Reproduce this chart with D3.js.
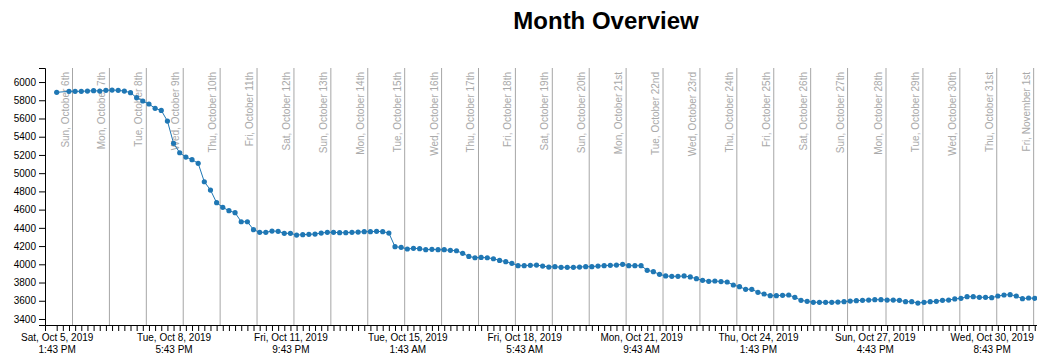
<!DOCTYPE html>
<html>
<head>
<meta charset="utf-8">
<script src="https://cdn.jsdelivr.net/npm/d3@7"></script>
<style>
  html, body { margin: 0; padding: 0; background: #fff; overflow: hidden; }
  svg { display: block; font-family: "Liberation Sans", Arial, Helvetica, sans-serif; }
</style>
</head>
<body>
<svg id="chart" width="1037" height="359"></svg>
<script>
// ---- Data (one reading every 4 hours from the start time; null = missing reading) ----
const startTime = "2019-10-05T13:43:00+02:00";
const stepHours = 4;
const values = [
  5887, null, 5898, 5898, 5898, 5901, 5905, 5901, 5909, 5912,
  5909, 5901, 5883, 5828, 5792, 5759, 5711, 5689, 5572, 5328,
  5224, 5177, 5148, 5108, 4906, 4815, 4676, 4625, 4588, 4566,
  4467, 4467, 4380, 4351, 4351, 4365, 4362, 4340, 4340, 4321,
  4325, 4329, 4332, 4343, 4351, 4351, 4347, 4347, 4351, 4354,
  4358, 4358, 4362, 4358, 4343, 4193, 4186, 4168, 4175, 4172,
  4160, 4164, 4160, 4160, 4153, 4149, 4120, 4087, 4072, 4076,
  4072, 4061, 4043, 4029, 4011, 3985, 3985, 3989, 3992, 3981,
  3970, 3974, 3967, 3967, 3967, 3970, 3974, 3974, 3981, 3985,
  3989, 3992, 4000, 3985, 3985, 3985, 3934, 3919, 3890, 3872,
  3868, 3868, 3872, 3861, 3842, 3824, 3813, 3817, 3810, 3806,
  3773, 3754, 3726, 3726, 3693, 3674, 3656, 3656, 3660, 3663,
  3638, 3605, 3594, 3583, 3583, 3583, 3583, 3586, 3590, 3597,
  3601, 3605, 3608, 3612, 3612, 3608, 3608, 3605, 3590, 3590,
  3575, 3583, 3590, 3594, 3605, 3608, 3620, 3627, 3645, 3645,
  3638, 3638, 3634, 3652, 3663, 3667, 3652, 3623, 3630, 3627
];

// Y axis tick values
const yTicks = [3400, 3600, 3800, 4000, 4200, 4400, 4600, 4800, 5000, 5200, 5400, 5600, 5800, 6000];

// X axis labelled ticks: every 19th 4-hour tick
const xLabelEvery = 19;
const xLabelDates = ["Sat, Oct 5, 2019", "Tue, Oct 8, 2019", "Fri, Oct 11, 2019", "Tue, Oct 15, 2019",
  "Fri, Oct 18, 2019", "Mon, Oct 21, 2019", "Thu, Oct 24, 2019", "Sun, Oct 27, 2019", "Wed, Oct 30, 2019"];
const xLabelTimes = ["1:43 PM", "5:43 PM", "9:43 PM", "1:43 AM", "5:43 AM", "9:43 AM", "1:43 PM", "4:43 PM", "8:43 PM"];

// Day boundaries (local midnight) and their labels
const dayStarts = [
  "2019-10-06T00:00:00+02:00", "2019-10-07T00:00:00+02:00", "2019-10-08T00:00:00+02:00",
  "2019-10-09T00:00:00+02:00", "2019-10-10T00:00:00+02:00", "2019-10-11T00:00:00+02:00",
  "2019-10-12T00:00:00+02:00", "2019-10-13T00:00:00+02:00", "2019-10-14T00:00:00+02:00",
  "2019-10-15T00:00:00+02:00", "2019-10-16T00:00:00+02:00", "2019-10-17T00:00:00+02:00",
  "2019-10-18T00:00:00+02:00", "2019-10-19T00:00:00+02:00", "2019-10-20T00:00:00+02:00",
  "2019-10-21T00:00:00+02:00", "2019-10-22T00:00:00+02:00", "2019-10-23T00:00:00+02:00",
  "2019-10-24T00:00:00+02:00", "2019-10-25T00:00:00+02:00", "2019-10-26T00:00:00+02:00",
  "2019-10-27T00:00:00+02:00", "2019-10-28T00:00:00+01:00", "2019-10-29T00:00:00+01:00",
  "2019-10-30T00:00:00+01:00", "2019-10-31T00:00:00+01:00", "2019-11-01T00:00:00+01:00"
];
const dayLabels = [
  "Sun, October 6th", "Mon, October 7th", "Tue, October 8th", "Wed, October 9th",
  "Thu, October 10th", "Fri, October 11th", "Sat, October 12th", "Sun, October 13th",
  "Mon, October 14th", "Tue, October 15th", "Wed, October 16th", "Thu, October 17th",
  "Fri, October 18th", "Sat, October 19th", "Sun, October 20th", "Mon, October 21st",
  "Tue, October 22nd", "Wed, October 23rd", "Thu, October 24th", "Fri, October 25th",
  "Sat, October 26th", "Sun, October 27th", "Mon, October 28th", "Tue, October 29th",
  "Wed, October 30th", "Thu, October 31st", "Fri, November 1st"
];

const title = "Month Overview";

// ---- Layout ----
const HOUR = 3600e3;
const margin = { top: 68, left: 45 };
const innerWidth = 1122;      // plot extends past the visible window on the right
const plotBottom = 325;
const t0 = new Date(startTime);

const data = values.map((v, i) => ({ t: new Date(+t0 + i * stepHours * HOUR), v }))
                   .filter(d => d.v !== null);

const x = d3.scaleTime()
  .domain([new Date(+t0 - 7.6 * HOUR), new Date(+t0 + 722 * HOUR)])
  .range([margin.left, margin.left + innerWidth]);

const y = d3.scaleLinear()
  .domain([3334, 6154])
  .range([plotBottom, margin.top]);

const svg = d3.select("#chart");

// Title
svg.append("text")
  .attr("x", margin.left + innerWidth / 2)
  .attr("y", 29)
  .attr("text-anchor", "middle")
  .attr("font-size", 24)
  .attr("font-weight", "bold")
  .attr("fill", "#000")
  .text(title);

// Day separator lines + labels
const days = dayStarts.map((s, i) => ({ t: new Date(s), label: dayLabels[i] }));
const dayG = svg.append("g");
dayG.selectAll("line").data(days).join("line")
  .attr("x1", d => x(d.t)).attr("x2", d => x(d.t))
  .attr("y1", margin.top).attr("y2", plotBottom)
  .attr("stroke", "#a6a6a6").attr("stroke-width", 1);
dayG.selectAll("text").data(days).join("text")
  .attr("transform", d => `translate(${x(d.t) - 4},${margin.top + 4}) rotate(-90)`)
  .attr("text-anchor", "end")
  .attr("font-size", 10)
  .attr("fill", "#a9a9a9")
  .text(d => d.label);

// X axis
const [d0, d1] = x.domain();
const tickTimes = [];
for (let k = 0; +t0 + k * stepHours * HOUR <= +d1; k++) tickTimes.push(new Date(+t0 + k * stepHours * HOUR));

const xAxisG = svg.append("g")
  .attr("transform", `translate(0,${plotBottom})`)
  .call(d3.axisBottom(x).tickValues(tickTimes).tickFormat(""));
xAxisG.selectAll(".tick text").each(function (d, i) {
  const t = d3.select(this);
  if (i % xLabelEvery !== 0 || !xLabelDates[i / xLabelEvery]) { t.remove(); return; }
  const j = i / xLabelEvery;
  t.text(null).attr("dy", null);
  t.append("tspan").attr("x", 0).attr("dy", "0.71em").text(xLabelDates[j]);
  t.append("tspan").attr("x", 0).attr("dy", "1.2em").text(xLabelTimes[j]);
});
xAxisG.attr("font-family", null).attr("font-size", 10);
xAxisG.selectAll("text").attr("fill", "#000");

// Y axis
const yAxisG = svg.append("g")
  .attr("transform", `translate(${margin.left},0)`)
  .call(d3.axisLeft(y).tickValues(yTicks).tickFormat(d3.format("d")));
yAxisG.attr("font-family", null).attr("font-size", 10);
yAxisG.selectAll("text").attr("fill", "#000");

// Data line and dots
svg.append("path")
  .datum(data)
  .attr("fill", "none")
  .attr("stroke", "#1f77b4")
  .attr("stroke-width", 1)
  .attr("d", d3.line().x(d => x(d.t)).y(d => y(d.v)));

svg.append("g").selectAll("circle").data(data).join("circle")
  .attr("cx", d => x(d.t))
  .attr("cy", d => y(d.v))
  .attr("r", 2.6)
  .attr("fill", "#1f77b4");
</script>
</body>
</html>
